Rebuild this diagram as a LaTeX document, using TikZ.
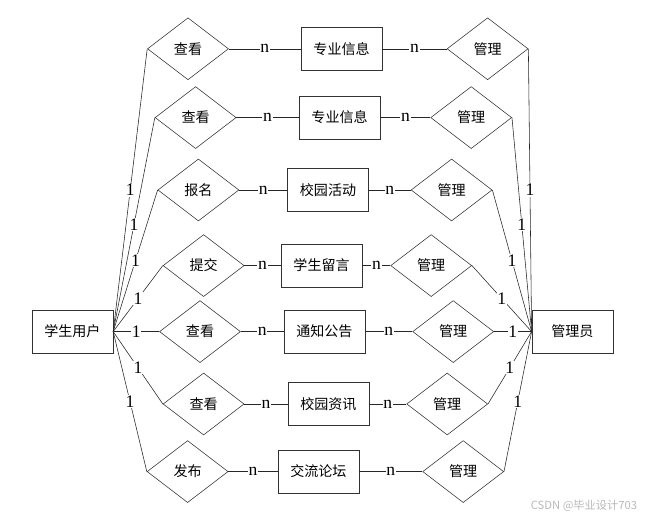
\documentclass[tikz,border=0pt]{standalone}
\usepackage{fontspec}
\setmainfont{Liberation Serif}
\newfontfamily\cjk{Noto Sans CJK SC}
\usepackage{tikz}
\usetikzlibrary{shapes.geometric}

\begin{document}
\begin{tikzpicture}[
  font=\cjk\fontsize{10}{12}\selectfont,
  entity/.style={rectangle, draw=black!80, minimum width=2.025cm,
                 minimum height=1.075cm, inner sep=1pt},
  relation/.style={diamond, draw=black!80, minimum width=2.025cm,
                   minimum height=1.55cm, inner sep=0pt},
  link/.style={draw=black!85},
  card/.style={fill=white, inner sep=0.6pt, font=\rmfamily\fontsize{12.5}{14}\selectfont},
]
\useasboundingbox (0,0) rectangle (16.325,13);

% --- main entities ---
\node[entity] (user)  at (1.81, 4.71) {学生用户};
\node[entity] (admin) at (14.31,4.71) {管理员};

% --- rows: relation -- entity -- relation ---
\node[relation] (ra1) at (4.70,11.78) {查看};
\node[entity]   (e1)  at (8.54,11.78) {专业信息};
\node[relation] (rb1) at (12.19,11.78) {管理};

\node[relation] (ra2) at (4.89,10.06) {查看};
\node[entity]   (e2)  at (8.49,10.06) {专业信息};
\node[relation] (rb2) at (11.78,10.06) {管理};

\node[relation] (ra3) at (4.96,8.25) {报名};
\node[entity]   (e3)  at (8.20,8.25) {校园活动};
\node[relation] (rb3) at (11.29,8.25) {管理};

\node[relation] (ra4) at (5.09,6.36) {提交};
\node[entity]   (e4)  at (8.04,6.36) {学生留言};
\node[relation] (rb4) at (10.78,6.36) {管理};

\node[relation] (ra5) at (5.00,4.71) {查看};
\node[entity]   (e5)  at (8.11,4.71) {通知公告};
\node[relation] (rb5) at (11.33,4.71) {管理};

\node[relation] (ra6) at (5.09,2.90) {查看};
\node[entity]   (e6)  at (8.21,2.90) {校园资讯};
\node[relation] (rb6) at (11.18,2.90) {管理};

\node[relation] (ra7) at (4.69,1.21) {发布};
\node[entity]   (e7)  at (7.96,1.21) {交流论坛};
\node[relation] (rb7) at (11.58,1.21) {管理};

% --- connectors ---
\foreach \i in {1,...,7} {
  \draw[link] (user.east) -- node[card] {1} (ra\i.west);
  \draw[link] (ra\i.east) -- node[card] {n} (e\i.west);
  \draw[link] (e\i.east) -- node[card] {n} (rb\i.west);
  \draw[link] (rb\i.east) -- node[card] {1} (admin.west);
}

% --- watermark ---
\node[font=\cjk\fontsize{8}{9}\selectfont, text=gray!55] (mark) at (14.6,0.35) {CSDN @毕业设计703};

\end{tikzpicture}
\end{document}
